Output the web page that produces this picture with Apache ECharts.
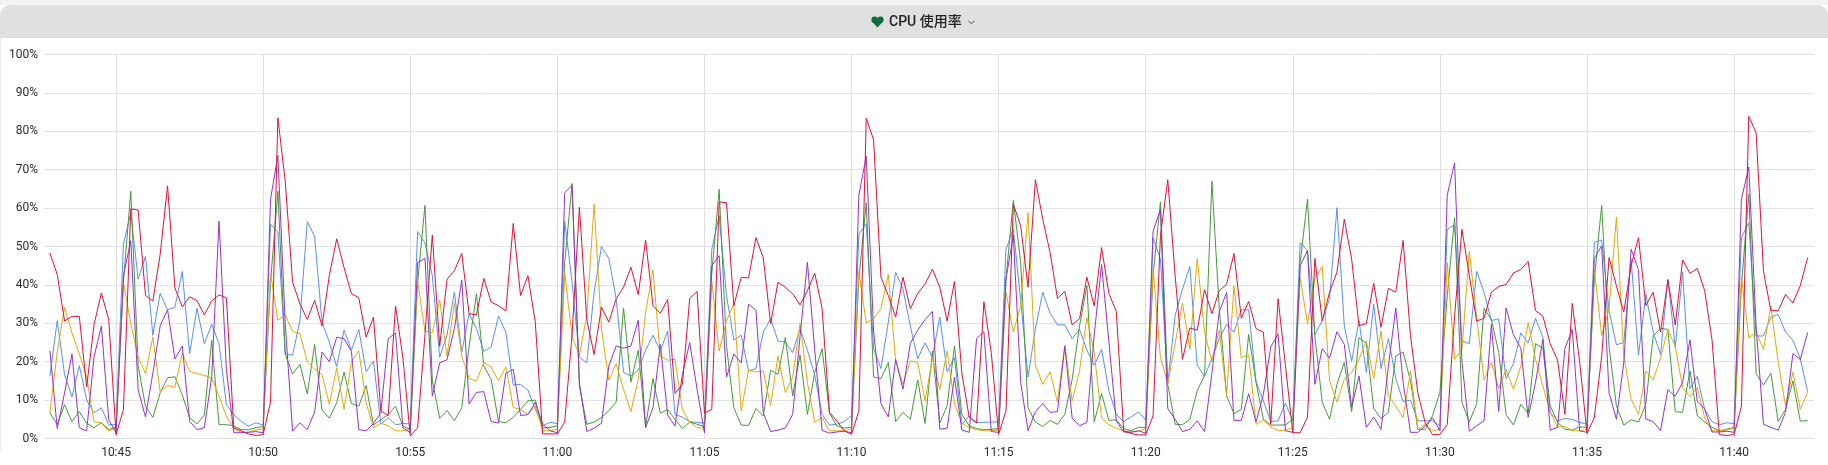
<!DOCTYPE html>
<html><head><meta charset="utf-8">
<style>html,body{margin:0;padding:0;background:#fff}#c{width:1828px;height:465px}</style>
<script src="https://cdn.jsdelivr.net/npm/echarts@6/dist/echarts.min.js"></script>
</head><body><div id="c"></div>
<script>
const title = "CPU 使用率";
const yTicks = [0,10,20,30,40,50,60,70,80,90,100];
const firstSample = [2024,0,1,10,42,45];
const sampleSeconds = 15;
const axisStart = [2024,0,1,10,42,33];
const axisEnd = [2024,0,1,11,42,43];
const red = [48.3,42.7,30.6,31.8,31.8,13.4,29.6,37.9,31,1,
7.5,59.8,59.5,37.3,35.8,48,65.8,39.2,34.3,36.9,
35.9,32.2,35.8,37.4,36.6,2.8,2,1.2,0.8,1,
9.5,83.5,67,40.8,35,31,36,29.3,42.5,52,
44.5,37.7,36.7,26.4,31.6,7.2,6,34.5,21,0.7,
2.8,27,53,24,41.5,43.7,48.2,32.5,32.2,41.7,
35.5,34.6,33.2,56,37.2,42.4,30.3,1.2,1.2,1.2,
4.3,27,60.2,31,21.9,34.2,30.3,36.4,39.4,44.6,
37.5,51.7,34.6,32.6,36.2,11.7,14.1,36.5,38.3,6.6,
7.6,61.6,61.4,34.6,42,41.8,52.3,47.1,29.9,40.7,
39.4,37.7,34.8,38.5,43,33.8,6.8,4.6,2,1.1,
7.2,83.4,77.8,42,37.2,31.6,42,33.8,37.8,40.2,
44.1,39.4,30.6,40.9,17,5.5,4,35.6,22.4,1.1,
7.2,61,55.4,39.4,67.4,57.1,48.4,36.5,38.3,29.6,
31.2,42,34.5,49.7,37.7,33.1,2,1.3,0.9,1,
5.9,52.8,67.4,42.4,20.6,28.8,28.2,38.8,32.5,38.5,
40.2,48.2,31.3,35.7,28.6,27.7,3.7,36.4,19,1.5,
1.5,5.6,46.9,30.7,38.1,43.3,57.1,46.7,29.4,29.9,
40.4,29,39.1,38.1,51.6,26.8,11.9,4.1,1,1,
3.7,32,54.5,42.4,30.6,31.3,38.1,39.6,40.1,43.1,
44,46.1,33.3,31.9,24.7,20.4,6.3,35.2,20,1.3,
5.4,21.4,47.1,39.8,32.9,45,52.3,34.6,38.1,27.7,
41.3,29.6,46.5,43,44.3,38.5,25.7,1,0.8,1,
8.4,83.9,79.6,43.5,33.3,33.3,37.5,35.3,39.8,47.1];
const purple = [22.9,2.6,11.9,22,2.8,2,21.2,29.3,4.9,1.5,
42.4,51.5,12.7,5.6,17,29.4,33.5,20.7,24.1,4.5,
2.3,2.8,16,56.6,18,1.5,1.5,1.6,1.8,1.5,
62.3,73.7,30,1.9,4.1,2.3,6.9,22.5,20,26.4,
26,22.7,2.3,2,3.9,6.7,26,27.5,2.8,1.5,
45.8,46.9,11,19.7,20.5,28.6,41.3,9,12,12.2,
4.4,4,17,18,6,6.2,9.4,3.7,2,1.5,
64,65.9,14.5,1.8,2.7,4,18.9,24.1,23.5,24.1,
30.8,2.8,8,24.5,6.1,3.2,16.7,25,12.8,1.5,
45,47.6,16,22,19.7,35,33.4,6.7,1.8,2.2,
2.7,6.3,26.6,45.9,23,2.1,1.4,1.7,1.9,1.5,
63.4,73.5,28,9.1,5.6,20.6,12.8,24.8,28.2,31,
33.1,2.4,2.7,16,2.2,1.6,26,27.8,1.8,1.6,
41.5,53,14.6,2,7,9.1,6.8,7,24,5.3,
3.3,4.2,27,45.3,25,4.6,1.7,1.6,2,1.4,
53.9,59.7,7.8,5,1.8,2.4,4.6,1.8,17,33,
38,4.7,4.7,11.7,4.3,11.5,23.8,27.3,2,1.6,
45,49,14.1,23.4,20.9,27.8,24.5,8.1,16.3,2.9,
5.6,2.4,18.8,34,14.6,1.6,1.6,3.3,5.4,2,
63.4,71.8,20,1.9,3.3,4.6,29.7,7.1,34,27,
23.5,5.5,14.6,25.8,2.2,2.9,23.5,28.4,2,1.6,
46.9,50.2,11.9,5,19.7,49.3,44,5.1,4.4,2.1,
12.7,11,14.6,25.7,9.6,7.7,1.7,1.7,1.9,1.6,
62.3,70.7,29,3.7,2.9,2.2,6.8,22.1,20.6,27.6];
const green = [6.7,3.6,8.8,4.4,7,4,2.8,4.1,2.3,3,
40.7,64.4,19,8.4,5.5,11.9,15.8,16.1,11.4,5.4,
3.8,6.1,25.6,3.6,3.6,3.3,2.3,2.3,2.8,3.1,
40.7,64.4,22,16.8,19.3,11.6,24.5,7.4,5.3,9.3,
17.3,9.1,8.4,13.8,3.5,4.9,6.2,8.4,3.2,2.4,
40.7,60.7,15.2,5.2,7.3,4.6,8,24,37.7,18.9,
15.4,4.4,4.1,5.5,7.6,9.8,10,2.7,2.9,3.3,
45.8,66.4,13.7,3.7,4.3,5.5,7.2,9.5,34,14.7,
23,3,15.6,6.6,7.5,5,2.6,4.3,3.7,3.1,
43,64.9,24,8,3.5,3.4,7.8,5.9,17.8,16.7,
26.3,11.1,21.8,6.3,17.2,23.4,6.6,3.3,2.7,3,
41.5,61.4,16,15.6,19.8,4.4,6.8,5,15.3,3.9,
22.8,4,8.5,24.1,6.3,3.3,2.6,2.3,2.4,2.6,
41.5,62,45.8,8,4.3,3.1,4.7,3.7,6.3,15.4,
29.3,39.8,4.3,11.7,4.7,4.9,2.6,2,2.9,2.9,
42.4,61.6,14.1,3.7,3.6,5,12.4,16.5,67,33.8,
11.1,6.5,7.6,27.1,14.6,5,3.5,3.5,3.5,5,
45.8,62.3,26.7,9.4,5,14.1,19.8,7,26.3,24.7,
7.8,5.2,6.8,21.5,22.5,15,2.4,2.4,5.9,12,
37.2,57.5,9.4,4.3,9.1,33.9,31,22.4,6.2,3.5,
8.9,6.6,24.7,23.5,8.5,4.2,2.4,2.2,3,2.9,
41.5,60.7,24,8.5,3.5,4.9,4.3,8.9,26.7,28.7,
28.4,7,6.8,17.6,5.9,4.3,2.9,2,2.4,2.9,
39.8,63.6,16.9,13.9,17,4.4,7.6,15,4.5,4.7];
const yellow = [6.7,22.5,34.2,27.5,22,16,4.4,4,2,2.7,
40.7,29.9,21.2,16.9,26.4,12.1,13.8,13.4,22.3,17.5,
16.9,16.4,15.8,11,5.8,2.6,1.6,1.7,2.2,2.5,
43.1,30.8,32.2,27.9,27.3,20,18.1,16.6,9,18.4,
7.6,20,22.9,9.3,2.8,4,3.3,2,2,2.4,
41.2,27.9,27.6,36.1,21.4,35.3,21.5,15.6,15,19.8,
18.6,15,18.7,8.1,7.5,6.3,8.5,2,2,2.4,
43.2,26.5,21.7,32,61,28.6,15.2,19.5,12.8,7,
15.4,32.8,43.9,21.5,20.4,20.6,7.6,4.2,2.9,2.6,
41,22.8,30.7,35,7.2,17.8,17.3,17.6,8.5,21.5,
12,15.9,30,14.6,4.2,5.5,2,2,2,2.6,
43.5,30.1,31.2,33.8,42.7,20.2,14.1,20.2,19.8,9.8,
21,12.8,22.8,9.2,4,2.9,2.3,2,2,2.2,
38.1,27.7,34.6,58.8,19.1,14.1,17.4,9.5,24.3,9.8,
17.6,31.5,22.4,5.3,3.6,2.7,2,1.7,1.9,2.6,
44.1,21.2,14.3,24.7,35.3,23.2,46.9,27.7,20,28.2,
11.3,39.8,21,21.9,3.7,4.8,3,2.1,2.1,2.9,
42,29.9,41.5,44.8,15,9.5,15.4,17.2,20.6,25.4,
15.6,28,11.1,8.5,5.4,17.6,2.2,3.7,2,2.4,
45.8,20.6,23.2,48.8,31.5,15.2,19.8,13,18,12.8,
18.9,30.2,20.6,13.7,6.8,2.9,3.1,2,2,2.4,
44.1,26.8,33.8,57.7,21.7,10.2,6.3,17.6,15.2,21,
28.4,24,13.2,10.9,13.2,5.4,2,2,2.2,2.7,
42.2,26.2,27.7,23.2,34.5,19.8,8.5,17.3,7.6,12];
const blue = [16.2,30.7,16.6,10.8,19,10,6.7,8,3.6,3.6,
50.6,58.8,41.5,47.4,26.9,37.8,33.5,34.2,43.5,22.1,
33.9,24.7,29.7,24.7,8.8,6.2,4.5,3.2,4.1,3.5,
55.8,53.9,22.1,21.7,30.7,56.5,52.6,30.3,25.1,18.7,
28.2,23,28.4,17.4,20.2,3.7,5.4,3.6,3.9,3.8,
53.9,50.9,42.4,21.2,26.9,38.1,22.5,32.5,28.6,22.7,
23.8,31.9,27.7,13.9,14.1,12.6,7.6,3.3,4.2,3.9,
56.6,40.7,21.2,19.7,38.1,50,46.9,36.4,17.2,16.3,
17.8,23,26.9,22.8,28,6.2,5.6,4.4,4.2,4,
49.3,58,37.2,25.6,26.9,17.6,18.2,27.7,31.2,25.4,
25.1,22.4,28.6,23,16.5,6.3,3.5,3.7,4.4,6,
53.2,56,23.4,18.2,30.3,43.3,38.9,29.2,20.8,24.9,
21.2,31.6,17.4,21.1,3.7,5.9,4.2,4.2,4.3,4.3,
49.3,54.5,35.9,16,28.6,38.1,32.6,29.6,29.6,26,
28.4,23,19.1,23.2,12.4,6.3,4.4,5.6,6.9,4.8,
52.3,46.7,14.3,32,38.9,44.8,19.1,16.2,20.8,26,
29.7,27.7,33.5,33.5,14.8,9.8,4.4,4.6,9.2,4.6,
51,48.9,27,30.7,36.4,60.1,29.4,20.1,30.7,17.2,
35,18.2,26,15.6,9.6,10,4.6,4.6,4.6,3.3,
54.5,55.6,25.4,24.7,43.5,38.1,30.7,31.2,15.6,19.5,
27.5,24.9,31.3,26.4,6.8,4.6,5.2,5,4.2,3.7,
51,51.7,33.3,24.4,25,46.7,21.7,37.5,27.7,21.9,
41.5,23.8,43.3,13,16.2,7.6,4.4,3.6,4.1,3.9,
52.3,56.2,26.7,26.7,31.6,32.3,27.7,25.6,20.8,12.2];

const t0 = new Date(...firstSample).getTime();
const pts = vals => vals.map((v,i)=>[t0 + i*sampleSeconds*1000, v]);
const line = (name,vals,color)=>({name,type:'line',data:pts(vals),symbol:'none',showSymbol:false,
  silent:true,animation:false,lineStyle:{width:1,color},itemStyle:{color},clip:true});

const chart = echarts.init(document.getElementById('c'),null,{renderer:'canvas'});
chart.setOption({
  animation:false,
  backgroundColor:'#fff',
  grid:{left:44,right:14,top:54.5,bottom:26.5,containLabel:false},
  xAxis:{type:'time',min:new Date(...axisStart).getTime(),max:new Date(...axisEnd).getTime(),
    splitNumber:12,
    axisLine:{show:false},axisTick:{show:false},
    axisLabel:{formatter:'{HH}:{mm}',hideOverlap:false,showMinLabel:false,showMaxLabel:false,
      color:'#2b2b2b',fontFamily:'Roboto',fontSize:12,margin:8},
    splitLine:{show:true,showMinLine:false,showMaxLine:false,lineStyle:{color:'#dedee0',width:1}}},
  yAxis:{type:'value',min:yTicks[0],max:yTicks[yTicks.length-1],interval:10,
    axisLine:{show:false},axisTick:{show:false},
    axisLabel:{formatter:'{value}%',color:'#2b2b2b',fontFamily:'Roboto',fontSize:12,margin:6},
    splitLine:{show:true,lineStyle:{color:'#e2e2e2',width:1}}},
  series:[line('blue',blue,'#5a8ff0'),line('green',green,'#46993a'),line('yellow',yellow,'#e2a90c'),
          line('purple',purple,'#9234c8'),line('red',red,'#e0103a')],
  graphic:[
    {type:'rect',z:-1,shape:{x:0,y:0,width:1828,height:5},style:{fill:'#f1f3f3'}},
    {type:'rect',z:-1,shape:{x:0,y:5,width:1828,height:33,r:[10,10,0,0]},style:{fill:'#e0e0e0'}},
    {type:'rect',z:-1,shape:{x:0,y:38,width:1,height:414},style:{fill:'#ececec'}},
    {type:'circle',z:5,shape:{cx:874.6,cy:19.8,r:3.2},style:{fill:'#0f6b3e'}},
    {type:'circle',z:5,shape:{cx:880.4,cy:19.8,r:3.2},style:{fill:'#0f6b3e'}},
    {type:'polygon',z:5,shape:{points:[[871.6,21],[877.5,27.5],[883.4,21],[877.5,19]]},style:{fill:'#0f6b3e'}},
    {type:'text',z:5,x:889,y:22,style:{text:title,fill:'#222',font:'500 14px Roboto, "Noto Sans CJK SC"',textVerticalAlign:'middle',textAlign:'left'}},
    {type:'polyline',z:5,shape:{points:[[968.5,21],[971.5,23.5],[974.5,21]]},style:{stroke:'#444',fill:null,lineWidth:1}}
  ]
});
</script></body></html>
